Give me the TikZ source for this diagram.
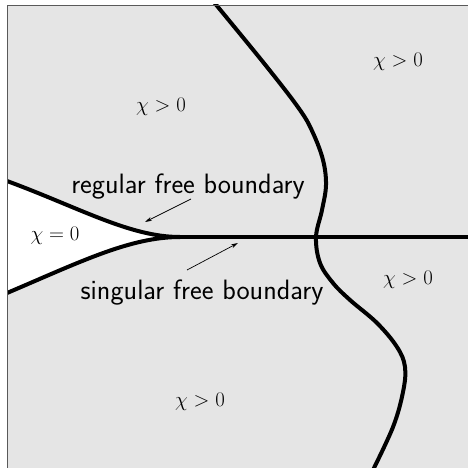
\documentclass[tikz,border=0pt]{standalone}
\usetikzlibrary{arrows.meta}
\begin{document}
\begin{tikzpicture}[x=1pt,y=-1pt,
  curve/.style={line width=4pt},
  pointer/.style={line width=0.7pt,-{Stealth[length=7pt,width=4pt]}},
  lab/.style={font=\fontsize{28}{32}\selectfont\sffamily},
  mlab/.style={font=\fontsize{22}{25}\selectfont}]
\useasboundingbox (0,0) rectangle (467,468);
\fill[gray!20] (7,5) rectangle (475,475);
\fill[white] (7,181) .. controls (80,208) and (130,237) .. (180,237)
  .. controls (130,237) and (80,262) .. (7,293) -- cycle;
\begin{scope}
\clip (7,5) rectangle (475,475);
\draw[curve] (7,181) .. controls (80,208) and (130,237) .. (180,237);
\draw[curve] (7,293) .. controls (80,262) and (130,237) .. (180,237);
\draw[curve] (180,237) -- (475,237);
\draw[curve] plot[smooth,tension=0.6] coordinates {(213,1) (267,67) (300,110) (313,133) (323,160) (326,185) (322,210) (316,237) (320,263) (333,283) (350,300) (377,323) (397,347) (405,367) (403,392) (393,427) (372,472)};
\end{scope}
\draw[gray!70!black,line width=0.8pt] (475,5) -- (7,5) -- (7,475);
\node[mlab] (a) at (161,107) {$\chi>0$};
\node[mlab] (b) at (398,62) {$\chi>0$};
\node[mlab] (c) at (55,236) {$\chi=0$};
\node[mlab] (d) at (408,280) {$\chi>0$};
\node[mlab] (e) at (200,402) {$\chi>0$};
\node[lab] (reg) at (188,187) {regular free boundary};
\node[lab] (sing) at (202,293) {singular free boundary};
\coordinate (rt) at (145,222);
\coordinate (st) at (238,243);
\coordinate (rs) at (191,199);
\coordinate (ss) at (187,270);
\draw[pointer] (rs) -- (rt);
\draw[pointer] (ss) -- (st);
\end{tikzpicture}
\end{document}
